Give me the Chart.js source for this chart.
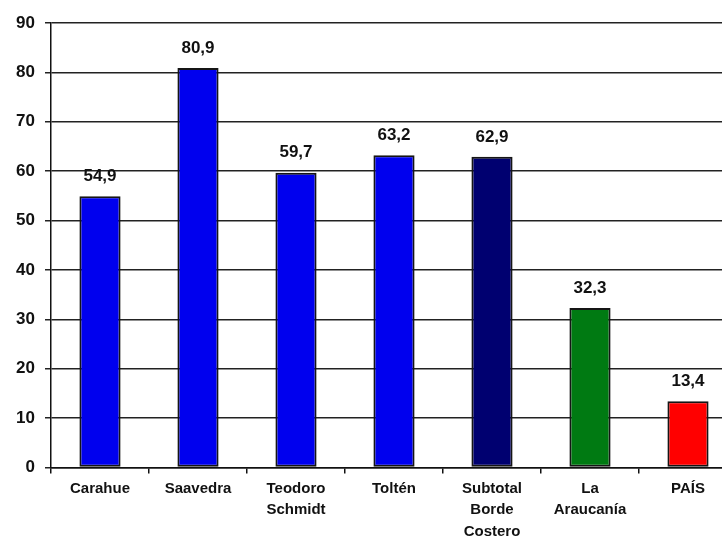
<!DOCTYPE html>
<html>
<head>
<meta charset="utf-8">
<script src="https://cdn.jsdelivr.net/npm/chart.js@4"></script>
<style>
  html, body { margin: 0; padding: 0; background: #fff; overflow: hidden; }
  #wrap { width: 740px; height: 541px; }
</style>
</head>
<body>
<div id="wrap"><canvas id="barChart"></canvas></div>
<script>
var categories = [
  'Carahue',
  'Saavedra',
  ['Teodoro', 'Schmidt'],
  'Toltén',
  ['Subtotal', 'Borde', 'Costero'],
  ['La', 'Araucanía'],
  'PAÍS'
];
var values = [54.9, 80.9, 59.7, 63.2, 62.9, 32.3, 13.4];
var barColors = ['#0000ee', '#0000ee', '#0000ee', '#0000ee', '#000070', '#007a12', '#ff0000'];
var yTicks = [0, 10, 20, 30, 40, 50, 60, 70, 80, 90];

var valueLabels = {
  id: 'valueLabels',
  afterDatasetsDraw: function (chart) {
    var ctx = chart.ctx;
    var meta = chart.getDatasetMeta(0);
    ctx.save();
    ctx.font = 'bold 17px "Liberation Sans", Arial, sans-serif';
    ctx.fillStyle = '#111';
    ctx.textAlign = 'center';
    ctx.textBaseline = 'middle';
    meta.data.forEach(function (bar, i) {
      var txt = values[i].toFixed(1).replace('.', ',');
      ctx.fillText(txt, bar.x, bar.y - 20);
    });
    ctx.restore();
  }
};

var ctx = document.getElementById('barChart').getContext('2d');
new Chart(ctx, {
  type: 'bar',
  data: {
    labels: categories,
    datasets: [{
      data: values,
      backgroundColor: barColors,
      borderColor: '#151515',
      borderWidth: 2,
      borderSkipped: false,
      barPercentage: 0.42,
      categoryPercentage: 1.0
    }]
  },
  options: {
    responsive: true,
    maintainAspectRatio: false,
    animation: false,
    layout: { padding: { top: 23, right: 3, left: 0, bottom: 0 } },
    plugins: {
      legend: { display: false },
      tooltip: { enabled: false }
    },
    scales: {
      x: {
        afterFit: function (s) { s.height = 73.5; },
        border: { color: '#111', width: 1.5 },
        grid: { drawOnChartArea: false, tickLength: 6, color: '#111', lineWidth: 1.5 },
        ticks: {
          color: '#111',
          padding: 4,
          maxRotation: 0,
          autoSkip: false,
          font: { family: '"Liberation Sans", Arial, sans-serif', weight: 'bold', size: 15, lineHeight: 1.45 }
        }
      },
      y: {
        min: 0,
        max: 90,
        afterFit: function (s) { s.width = 51; },
        afterBuildTicks: function (s) { s.ticks = yTicks.map(function (v) { return { value: v }; }); },
        border: { color: '#111', width: 1.5 },
        grid: { color: '#222', lineWidth: 1.5, tickLength: 6 },
        ticks: {
          color: '#111',
          padding: 10,
          font: { family: '"Liberation Sans", Arial, sans-serif', weight: 'bold', size: 17 }
        }
      }
    }
  },
  plugins: [valueLabels]
});
</script>
</body>
</html>
